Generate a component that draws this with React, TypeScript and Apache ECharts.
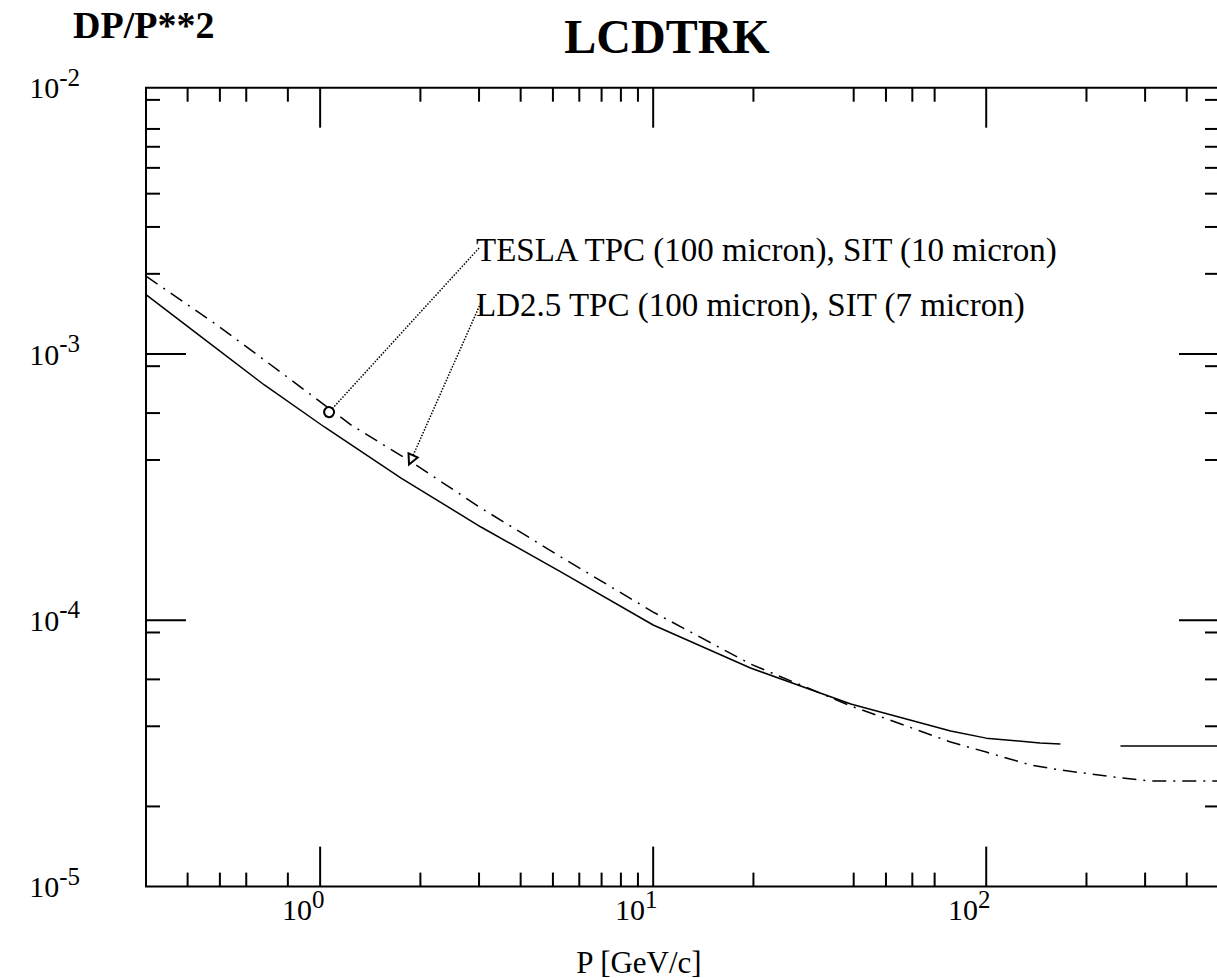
import React, { useEffect, useRef } from 'react';
import * as echarts from 'echarts';

// ---- data ----
const ldP = [0.3, 0.46, 0.68, 1.03, 1.75, 3.04, 5.28, 10, 19.6, 39.2, 78.2, 100, 145, 167, 200, 253, 500];
const ldV = [1.67e-3, 1.11e-3, 7.65e-4, 5.32e-4, 3.42e-4, 2.24e-4, 1.52e-4, 9.6e-5, 6.62e-5, 4.85e-5, 3.84e-5, 3.61e-5, 3.46e-5, 3.43e-5, null, 3.37e-5, 3.37e-5];

const teslaP = [0.3, 0.49, 0.76, 1.24, 1.88, 3.04, 5.28, 10, 19.6, 39.2, 78.2, 100, 136, 167, 253, 311, 500];
const teslaV = [1.96e-3, 1.285e-3, 8.56e-4, 5.41e-4, 3.93e-4, 2.64e-4, 1.73e-4, 1.074e-4, 6.85e-5, 4.77e-5, 3.49e-5, 3.2e-5, 2.86e-5, 2.74e-5, 2.56e-5, 2.49e-5, 2.49e-5];

const xMajorTicks = [1, 10, 100];
const xMinorTicks = [0.4, 0.5, 0.6, 0.8, 2, 3, 4, 5, 6, 7, 8, 9, 20, 40, 50, 60, 70, 200, 300, 400];
const yMajorTicks = [1e-4, 1e-3];
const yMinorTicks = [9e-3, 7e-3, 6e-3, 5e-3, 4e-3, 3e-3, 2e-3, 9e-4, 6e-4, 4e-4, 9e-5, 6e-5, 4e-5, 2e-5];

const xRange = [0.3, 500];
const yRange = [1e-5, 1e-2];

const teslaArrow = [[3.0, 2.5e-3], [1.064, 6.05e-4]];
const ldArrow = [[3.06, 1.59e-3], [1.875, 4.0e-4]];

const titleText = 'LCDTRK';
const yTitleText = 'DP/P**2';
const xTitleText = 'P [GeV/c]';
const teslaLabel = 'TESLA TPC (100 micron), SIT (10 micron)';
const ldLabel = 'LD2.5 TPC (100 micron), SIT (7 micron)';

const SERIF = '"Liberation Serif", "Times New Roman", serif';

function decadeLabel(v: number) {
  const e = Math.log10(v);
  const r = Math.round(e);
  if (Math.abs(e - r) > 1e-3) return '';
  return `{b|10}{s|${r < 0 ? '-' + Math.abs(r) : r}}`;
}

const labelRich = {
  b: { fontFamily: SERIF, fontSize: 30, color: '#000', lineHeight: 30, verticalAlign: 'bottom' },
  s: { fontFamily: SERIF, fontSize: 25, color: '#000', lineHeight: 25, verticalAlign: 'bottom', padding: [0, 0, 13, 0] },
};

// side: 0 bottom, 1 top, 2 left, 3 right
function buildTicks() {
  const data: number[][] = [];
  xMajorTicks.forEach((x) => { data.push([x, yRange[0], 0, 1]); data.push([x, yRange[1], 1, 1]); });
  xMinorTicks.forEach((x) => { data.push([x, yRange[0], 0, 0]); data.push([x, yRange[1], 1, 0]); });
  yMajorTicks.forEach((y) => { data.push([xRange[0], y, 2, 1]); data.push([xRange[1], y, 3, 1]); });
  yMinorTicks.forEach((y) => { data.push([xRange[0], y, 2, 0]); data.push([xRange[1], y, 3, 0]); });
  return data;
}

export default function App() {
  const ref = useRef<HTMLDivElement>(null);
  useEffect(() => {
    const chart = echarts.init(ref.current!, null, { renderer: 'svg' });
    const option: any = {
      animation: false,
      backgroundColor: '#fff',
      grid: { show: true, borderColor: '#000', borderWidth: 2, left: 146, top: 87.7, right: 21, bottom: 91.4 },
      xAxis: {
        type: 'log', logBase: 10, min: xRange[0], max: xRange[1],
        axisLine: { show: false }, axisTick: { show: false }, splitLine: { show: false },
        axisLabel: {
          margin: 8, formatter: decadeLabel, rich: labelRich, align: 'center', padding: [0, 34, 0, 0],
          showMinLabel: false, showMaxLabel: false,
        },
      },
      yAxis: {
        type: 'log', logBase: 10, min: yRange[0], max: yRange[1],
        axisLine: { show: false }, axisTick: { show: false }, splitLine: { show: false },
        axisLabel: { margin: 66, formatter: decadeLabel, rich: labelRich },
      },
      series: [
        {
          name: 'LD', type: 'line', symbol: 'none', connectNulls: false,
          data: ldP.map((p, i) => [p, ldV[i] == null ? '-' : ldV[i]]),
          lineStyle: { color: '#000', width: 1.5, type: 'solid' },
          markLine: {
            silent: true, symbol: ['none', 'emptyTriangle'], symbolSize: 10, label: { show: false },
            lineStyle: { color: '#000', width: 1.5, type: 'dotted' },
            data: [[{ coord: ldArrow[0] }, { coord: ldArrow[1] }]],
          },
        },
        {
          name: 'TESLA', type: 'line', symbol: 'none',
          data: teslaP.map((p, i) => [p, teslaV[i]]),
          lineStyle: { color: '#000', width: 1.5, type: [14, 7, 2, 7] },
          markLine: {
            silent: true, symbol: ['none', 'emptyCircle'], symbolSize: 10, label: { show: false },
            lineStyle: { color: '#000', width: 1.5, type: 'dotted' },
            data: [[{ coord: teslaArrow[0] }, { coord: teslaArrow[1] }]],
          },
        },
        {
          type: 'custom', silent: true, clip: false,
          encode: { x: 0, y: 1 },
          data: buildTicks(),
          renderItem: (params: any, api: any) => {
            const p = api.coord([api.value(0), api.value(1)]);
            const side = api.value(2);
            const L = api.value(3) ? 40 : 14;
            let x2 = p[0], y2 = p[1];
            if (side === 0) y2 = p[1] - L;
            else if (side === 1) y2 = p[1] + L;
            else if (side === 2) x2 = p[0] + L;
            else x2 = p[0] - L;
            return { type: 'line', shape: { x1: p[0], y1: p[1], x2, y2 }, style: { stroke: '#000', lineWidth: 2 } };
          },
        },
      ],
      graphic: [
        { type: 'text', x: 73, y: 25, style: { text: yTitleText, fontFamily: SERIF, fontWeight: 'bold', fontSize: 38, fill: '#000', verticalAlign: 'middle' } },
        { type: 'text', x: 667, y: 36, style: { text: titleText, fontFamily: SERIF, fontWeight: 'bold', fontSize: 48, fill: '#000', align: 'center', verticalAlign: 'middle' } },
        { type: 'text', x: 476, y: 250, style: { text: teslaLabel, fontFamily: SERIF, fontSize: 33, fill: '#000', verticalAlign: 'middle' } },
        { type: 'text', x: 476, y: 305, style: { text: ldLabel, fontFamily: SERIF, fontSize: 33, fill: '#000', verticalAlign: 'middle' } },
        { type: 'text', x: 639, y: 962, style: { text: xTitleText, fontFamily: SERIF, fontSize: 31, fill: '#000', align: 'center', verticalAlign: 'middle' } },
      ],
    };
    chart.setOption(option);
    return () => chart.dispose();
  }, []);
  return <div ref={ref} style={{ position: 'fixed', left: 0, top: 0, width: 1240, height: 978, background: '#fff' }} />;
}
